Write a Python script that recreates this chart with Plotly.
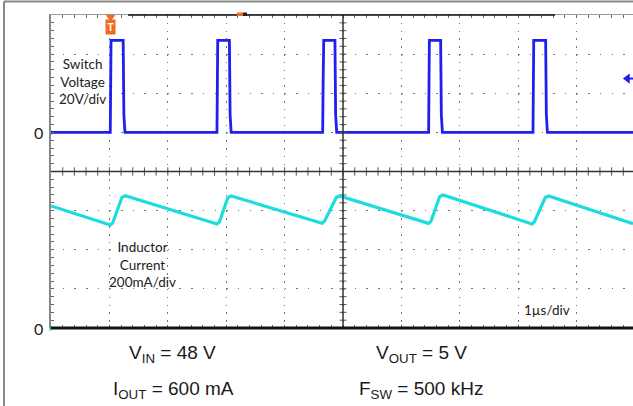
import plotly.graph_objects as go

# ---------------- data (read from the scope capture) ----------------
# time in microseconds (1 us/div)
sw_t = [0.000, 1.015, 1.028, 1.236, 1.248, 1.266,
        2.842, 2.855, 3.055, 3.067, 3.085,
        4.652, 4.660, 4.670, 4.862, 4.874, 4.892,
        6.466, 6.479, 6.672, 6.684, 6.702,
        8.253, 8.266, 8.470, 8.482, 8.500,
        9.966]
# switch-node voltage, volts (20 V/div)
sw_v = [0, 0, 47, 47, 9, 0,
        0, 47, 47, 9, 0,
        0, 26, 47, 47, 9, 0,
        0, 47, 47, 9, 0,
        0, 47, 47, 9, 0,
        0]

il_t = [0.000, 1.015, 1.055, 1.215, 1.272,
        2.842, 2.882, 3.030, 3.087,
        4.640, 4.680, 4.885, 4.942,
        6.466, 6.506, 6.655, 6.712,
        8.236, 8.276, 8.464, 8.521,
        9.966]
# inductor current, mA (200 mA/div)
il_ma = [624, 527, 537, 668, 676,
         532, 542, 667, 675,
         535, 545, 667, 675,
         535, 545, 672, 680,
         532, 542, 667, 675,
         533]

trigger_t = 1.02        # us
trigger_level_v = 27.5  # V

# ---------------- layout constants ----------------
W, H = 633, 406
L, R, T, B = 51, 0, 15, 78
PW, PH = W - L - R, H - T - B
XDIV = 58.4
XMAX = PW / XDIV
V_RANGE = [-100, 60]
I_RANGE = [0, 1600]

def px_x(px):
    return (px - L) / PW

def px_y(py):
    return (H - B - py) / PH

BLUE = "#1f1ff0"
CYAN = "#1cdcdf"
SCOPE_FONT = "Lato"
BOTTOM_FONT = "Liberation Sans"

fig = go.Figure()

fig.add_trace(go.Scatter(x=sw_t, y=sw_v, mode="lines",
                         line=dict(color=BLUE, width=2.8), yaxis="y",
                         showlegend=False, hoverinfo="skip"))
fig.add_trace(go.Scatter(x=il_t, y=il_ma, mode="lines",
                         line=dict(color=CYAN, width=3.2), yaxis="y2",
                         showlegend=False, hoverinfo="skip"))

# center-line minor ticks
hx = [0.2 * k for k in range(1, int(XMAX / 0.2) + 1)]
fig.add_trace(go.Scatter(x=hx, y=[-20] * len(hx), mode="markers",
                         marker=dict(symbol="line-ns", size=6,
                                     line=dict(color="#555", width=1)),
                         showlegend=False, hoverinfo="skip"))
vy = [-100 + 4 * k for k in range(1, 40)]
fig.add_trace(go.Scatter(x=[5] * len(vy), y=vy, mode="markers",
                         marker=dict(symbol="line-ew", size=5,
                                     line=dict(color="#555", width=1)),
                         showlegend=False, hoverinfo="skip"))

# channel ground markers
fig.add_trace(go.Scatter(x=[0], y=[0], mode="markers", yaxis="y",
                         marker=dict(symbol="triangle-right", size=6, color=BLUE),
                         cliponaxis=False, showlegend=False, hoverinfo="skip"))
fig.add_trace(go.Scatter(x=[0], y=[0], mode="markers", yaxis="y2",
                         marker=dict(symbol="triangle-right", size=6, color=CYAN),
                         cliponaxis=False, showlegend=False, hoverinfo="skip"))
# trigger level arrow
fig.add_trace(go.Scatter(x=[9.87, XMAX], y=[trigger_level_v] * 2, mode="lines",
                         line=dict(color=BLUE, width=2), yaxis="y",
                         cliponaxis=False, showlegend=False, hoverinfo="skip"))
fig.add_trace(go.Scatter(x=[9.87], y=[trigger_level_v], mode="markers", yaxis="y",
                         marker=dict(symbol="triangle-left", size=9, color=BLUE),
                         cliponaxis=False, showlegend=False, hoverinfo="skip"))

shapes = [
    # center cross
    dict(type="line", xref="x", yref="paper", x0=5, x1=5, y0=0, y1=1,
         line=dict(color="#333", width=1.5)),
    dict(type="line", xref="paper", yref="y", x0=0, x1=1, y0=-20, y1=-20,
         line=dict(color="#333", width=1.5)),
    # bottom thick line
    dict(type="line", xref="paper", yref="paper", x0=0, x1=1, y0=0, y1=0,
         line=dict(color="#111", width=3)),
    # top black segment
    dict(type="line", xref="paper", yref="paper", x0=px_x(128), x1=px_x(555),
         y0=1, y1=1, line=dict(color="#111", width=1.5)),
    # outer frame
    dict(type="line", xref="paper", yref="paper", x0=px_x(4), x1=px_x(4),
         y0=px_y(406), y1=px_y(1.5), line=dict(color="#888", width=2)),
    dict(type="line", xref="paper", yref="paper", x0=px_x(4), x1=px_x(633),
         y0=px_y(1.5), y1=px_y(1.5), line=dict(color="#888", width=2)),
    # horizontal position marker
    dict(type="rect", xref="paper", yref="paper", x0=px_x(237), x1=px_x(243),
         y0=px_y(16), y1=px_y(12.5), line=dict(width=0), fillcolor="#f26a21"),
    dict(type="rect", xref="paper", yref="paper", x0=px_x(243), x1=px_x(247),
         y0=px_y(16), y1=px_y(12.5), line=dict(width=0), fillcolor="#222"),
    # trigger marker pointer
    dict(type="path", xref="x", yref="paper",
         path=f"M{trigger_t - 0.08},{px_y(15)} L{trigger_t + 0.08},{px_y(15)} "
              f"L{trigger_t},{px_y(22)} Z",
         line=dict(width=0), fillcolor="#f26a21"),
]

def ann(**kw):
    base = dict(showarrow=False, xanchor="center", yanchor="middle")
    base.update(kw)
    return base

annotations = [
    ann(x=trigger_t, y=px_y(27), xref="x", yref="paper", text="<b>T</b>",
        bgcolor="#f26a21", borderpad=1.5,
        font=dict(family="Liberation Sans", size=10, color="white")),
    ann(x=px_x(82), y=25.8, xref="paper", yref="y",
        text="Switch<br>Voltage<br>20V/div", align="center",
        font=dict(family=SCOPE_FONT, size=13.5, color="#222")),
    ann(x=1.575, y=327, xref="x", yref="y2",
        text="Inductor<br>Current<br>200mA/div", align="center",
        font=dict(family=SCOPE_FONT, size=13.5, color="#222")),
    ann(x=8.5, y=92, xref="x", yref="y2", text="1µs/div",
        font=dict(family=SCOPE_FONT, size=13.5, color="#222")),
    ann(x=px_x(38), y=0, xref="paper", yref="y", text="0",
        font=dict(family=SCOPE_FONT, size=16, color="#222")),
    ann(x=px_x(38), y=0, xref="paper", yref="y2", text="0",
        font=dict(family=SCOPE_FONT, size=16, color="#222")),
    ann(x=px_x(172), y=px_y(354), xref="paper", yref="paper",
        text="V<sub>IN</sub> = 48 V",
        font=dict(family=BOTTOM_FONT, size=19, color="#1a1a1a")),
    ann(x=px_x(173), y=px_y(390), xref="paper", yref="paper",
        text="I<sub>OUT</sub> = 600 mA",
        font=dict(family=BOTTOM_FONT, size=19, color="#1a1a1a")),
    ann(x=px_x(421), y=px_y(354), xref="paper", yref="paper",
        text="V<sub>OUT</sub> = 5 V",
        font=dict(family=BOTTOM_FONT, size=19, color="#1a1a1a")),
    ann(x=px_x(421), y=px_y(390), xref="paper", yref="paper",
        text="F<sub>SW</sub> = 500 kHz",
        font=dict(family=BOTTOM_FONT, size=19, color="#1a1a1a")),
]

fig.update_layout(
    width=W, height=H,
    margin=dict(l=L, r=R, t=T, b=B, pad=0),
    paper_bgcolor="white", plot_bgcolor="white",
    showlegend=False,
    xaxis=dict(range=[0, XMAX], showgrid=True, gridcolor="#777",
               griddash="1.5px,6.325px", gridwidth=1.2, dtick=1, tick0=0,
               showticklabels=False, ticks="inside", ticklen=3, tickcolor="#666",
               showline=True, linecolor="#999", linewidth=1, mirror="ticks",
               zeroline=False,
               minor=dict(dtick=0.2, ticks="inside", ticklen=3, tickcolor="#666",
                          showgrid=False)),
    yaxis=dict(range=V_RANGE, showgrid=True, gridcolor="#777",
               griddash="1.5px,10.18px", gridwidth=1.2, dtick=20, tick0=0,
               showticklabels=False, ticks="inside", ticklen=3, tickcolor="#666",
               showline=True, linecolor="#888", linewidth=2, zeroline=False,
               minor=dict(dtick=4, ticks="inside", ticklen=3, tickcolor="#666",
                          showgrid=False)),
    yaxis2=dict(range=I_RANGE, overlaying="y", visible=False),
    shapes=shapes,
    annotations=annotations,
)

fig.write_html("out.html", config={"displayModeBar": False},
               post_script="document.body.style.margin='0';")
